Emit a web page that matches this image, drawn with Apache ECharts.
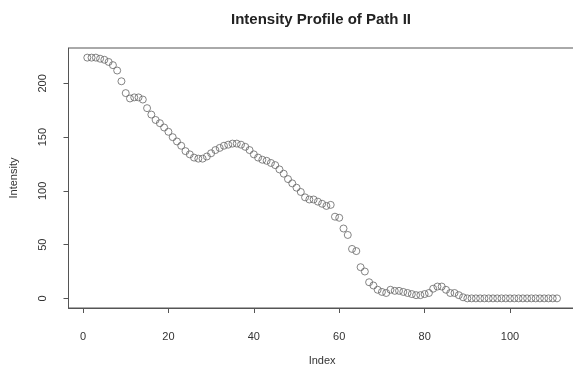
<!DOCTYPE html>
<html>
<head>
<meta charset="utf-8">
<script src="https://cdn.jsdelivr.net/npm/echarts@6/dist/echarts.min.js"></script>
<style>
html,body{margin:0;padding:0;background:#fff;}
#chart{width:573px;height:368px;}
</style>
</head>
<body>
<div id="chart"></div>
<script>
var indices = [];
var intensity = [
  224, 224, 224, 223, 222, 220, 217, 212, 202, 191,
  186, 187, 187, 185, 177, 171, 166, 163, 159, 155,
  150, 146, 142, 137, 134, 131, 130, 130, 132, 135,
  138, 140, 142, 143, 144, 144, 143, 141, 138, 134,
  131, 129, 128, 126, 124, 120, 116, 111, 107, 103,
  99, 94, 92, 92, 90, 88, 86, 87, 76, 75,
  65, 59, 46, 44, 29, 25, 15, 12, 8, 6,
  5, 8, 7, 7, 6, 5, 4, 3, 3, 4,
  5, 9, 11, 11, 8, 5, 5, 3, 1, 0,
  0, 0, 0, 0, 0, 0, 0, 0, 0, 0,
  0, 0, 0, 0, 0, 0, 0, 0, 0, 0,
  0
];
for (var k = 0; k < intensity.length; k++) indices.push(k + 1);
var xTicks = [0, 20, 40, 60, 80, 100];
var yTicks = [0, 50, 100, 150, 200];

var points = indices.map(function (x, i) { return [x, intensity[i]]; });
var textColor = '#333';
var lineColor = '#555';
var font = 'Liberation Sans, Arial, sans-serif';

var chart = echarts.init(document.getElementById('chart'), null, {renderer: 'canvas'});
chart.setOption({
  animation: false,
  backgroundColor: '#fff',
  title: {
    text: 'Intensity Profile of Path II',
    left: 316, top: 7, textAlign: 'center',
    textStyle: {fontFamily: font, fontSize: 15, fontWeight: 'bold', color: '#222'}
  },
  grid: {left: 68.5, right: -2.8, top: 48, bottom: 60, outerBoundsMode: 'none', containLabel: false, show: true, borderColor: lineColor, borderWidth: 1, backgroundColor: 'transparent'},
  xAxis: {
    type: 'value', min: -3.4, max: 115.4,
    name: 'Index', nameLocation: 'middle', nameGap: 47,
    nameTextStyle: {fontFamily: font, fontSize: 11, color: textColor},
    axisLine: {show: true, onZero: false, lineStyle: {color: lineColor}},
    axisTick: {show: true, length: 5, customValues: xTicks, lineStyle: {color: lineColor}},
    axisLabel: {customValues: xTicks, margin: 23, fontFamily: font, fontSize: 11, color: textColor},
    splitLine: {show: false}
  },
  yAxis: {
    type: 'value', min: -8.96, max: 232.96,
    name: 'Intensity', nameLocation: 'middle', nameGap: 49, nameRotate: 90,
    nameTextStyle: {fontFamily: font, fontSize: 11, color: textColor},
    axisLine: {show: true, onZero: false, lineStyle: {color: lineColor}},
    axisTick: {show: true, length: 5, customValues: yTicks, lineStyle: {color: lineColor}},
    axisLabel: {customValues: yTicks, rotate: 90, margin: 20, fontFamily: font, fontSize: 11, color: textColor, align: 'center', verticalAlign: 'bottom'},
    splitLine: {show: false}
  },
  series: [{
    type: 'scatter',
    data: points,
    symbol: 'circle',
    symbolSize: 7,
    itemStyle: {color: 'rgba(255,255,255,0)', borderColor: '#666', borderWidth: 1},
    emphasis: {disabled: true}
  }]
});
</script>
</body>
</html>
